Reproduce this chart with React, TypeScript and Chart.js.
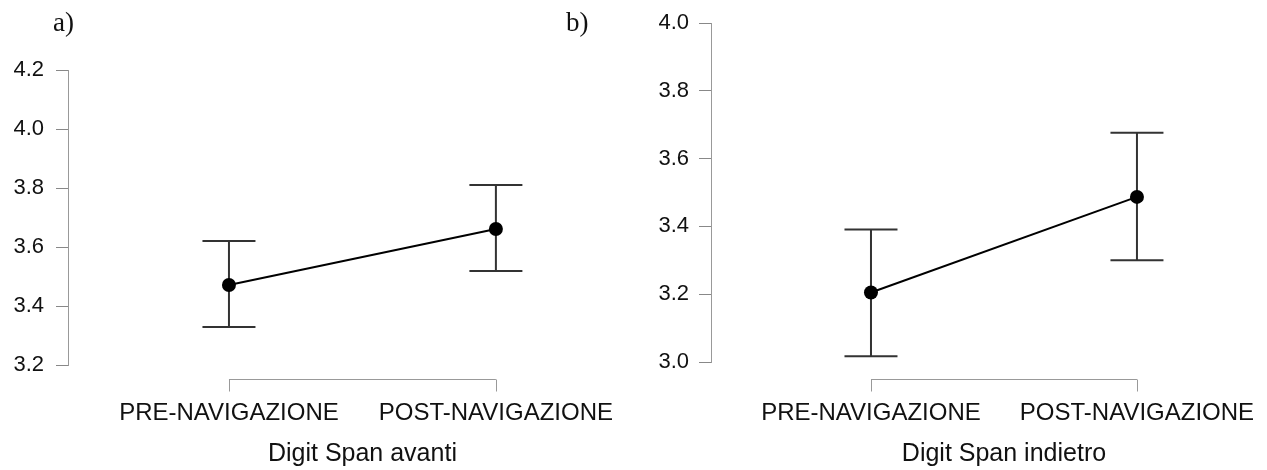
import React, { useEffect, useRef } from "react";
import { Chart, registerables } from "chart.js";

Chart.register(...registerables);

// ---- Data ----
const categories = ["PRE-NAVIGAZIONE", "POST-NAVIGAZIONE"];

const avantiMean = [3.471, 3.661];
const avantiLower = [3.329, 3.519];
const avantiUpper = [3.62, 3.81];
const avantiTicks = [3.2, 3.4, 3.6, 3.8, 4.0, 4.2];

const indietroMean = [3.205, 3.487];
const indietroLower = [3.017, 3.3];
const indietroUpper = [3.391, 3.676];
const indietroTicks = [3.0, 3.2, 3.4, 3.6, 3.8, 4.0];

const SANS = "'Liberation Sans', Arial, sans-serif";

type PanelCfg = {
  mean: number[];
  lower: number[];
  upper: number[];
  ticks: number[];
  title: string;
  width: number;
  yWidth: number;
  xHeight: number;
  padTop: number;
  padRight: number;
  xMin: number;
  xMax: number;
  bracketGap: number;
  labelPad: number;
  yLabelPad: number;
};

function makePlugin(cfg: PanelCfg) {
  return {
    id: "extras",
    beforeDatasetsDraw(chart: any) {
      const { ctx } = chart;
      const x = chart.scales.x;
      const y = chart.scales.y;
      ctx.save();
      ctx.strokeStyle = "#333";
      ctx.lineWidth = 2;
      cfg.lower.forEach((lo, i) => {
        const px = x.getPixelForValue(i);
        const y1 = y.getPixelForValue(lo);
        const y2 = y.getPixelForValue(cfg.upper[i]);
        const cap = 26.5;
        ctx.beginPath();
        ctx.moveTo(px, y1);
        ctx.lineTo(px, y2);
        ctx.moveTo(px - cap, y1);
        ctx.lineTo(px + cap, y1);
        ctx.moveTo(px - cap, y2);
        ctx.lineTo(px + cap, y2);
        ctx.stroke();
      });
      ctx.restore();
    },
    afterDraw(chart: any) {
      const { ctx } = chart;
      const x = chart.scales.x;
      const x0 = x.getPixelForValue(0);
      const x1 = x.getPixelForValue(categories.length - 1);
      const ly = Math.round(x.top + cfg.bracketGap) + 0.5;
      ctx.save();
      ctx.strokeStyle = "#999";
      ctx.lineWidth = 1;
      ctx.beginPath();
      ctx.moveTo(x0, ly);
      ctx.lineTo(x1, ly);
      categories.forEach((_, i) => {
        const px = Math.round(x.getPixelForValue(i)) + 0.5;
        ctx.moveTo(px, ly);
        ctx.lineTo(px, ly + 12);
      });
      ctx.stroke();
      ctx.fillStyle = "#111";
      ctx.font = `25px ${SANS}`;
      ctx.textAlign = "center";
      ctx.textBaseline = "middle";
      ctx.fillText(cfg.title, (x0 + x1) / 2, x.bottom - 16);
      ctx.restore();
    },
  };
}

function Panel({ cfg, left }: { cfg: PanelCfg; left: number }) {
  const ref = useRef<HTMLCanvasElement | null>(null);
  useEffect(() => {
    if (!ref.current) return;
    const chart = new Chart(ref.current, {
      type: "line",
      data: {
        datasets: [
          {
            data: cfg.mean.map((v, i) => ({ x: i, y: v })),
            borderColor: "#000",
            borderWidth: 2,
            pointRadius: 7,
            pointBackgroundColor: "#000",
            pointBorderWidth: 0,
            pointHoverRadius: 7,
            fill: false,
          },
        ],
      },
      options: {
        responsive: false,
        animation: false,
        devicePixelRatio: 1,
        layout: { padding: { top: cfg.padTop, right: cfg.padRight, left: 0, bottom: 0 } },
        plugins: { legend: { display: false }, tooltip: { enabled: false } },
        scales: {
          x: {
            type: "linear",
            min: cfg.xMin,
            max: cfg.xMax,
            border: { display: false },
            grid: { display: false },
            afterBuildTicks: (s: any) => {
              s.ticks = categories.map((_, i) => ({ value: i }));
            },
            afterFit: (s: any) => {
              s.height = cfg.xHeight;
              s.paddingLeft = 0;
              s.paddingRight = 0;
            },
            ticks: {
              autoSkip: false,
              maxRotation: 0,
              padding: cfg.labelPad,
              color: "#111",
              font: { family: SANS, size: 24 },
              callback: (v: any) => categories[Math.round(Number(v))] ?? "",
            },
          },
          y: {
            type: "linear",
            min: cfg.ticks[0],
            max: cfg.ticks[cfg.ticks.length - 1],
            border: { display: true, color: "#999", width: 1 },
            grid: {
              display: true,
              drawOnChartArea: false,
              drawTicks: true,
              tickLength: 12,
              color: "#888",
              tickColor: "#888",
            },
            afterBuildTicks: (s: any) => {
              s.ticks = cfg.ticks.map((v) => ({ value: v }));
            },
            afterFit: (s: any) => {
              s.width = cfg.yWidth;
              s.paddingTop = 0;
              s.paddingBottom = 0;
            },
            ticks: {
              padding: cfg.yLabelPad,
              color: "#111",
              font: { family: SANS, size: 22 },
              callback: (v: any) => Number(v).toFixed(1),
            },
          },
        },
      },
      plugins: [makePlugin(cfg)],
    } as any);
    return () => chart.destroy();
  }, [cfg]);
  return (
    <canvas
      ref={ref}
      width={cfg.width}
      height={470}
      style={{ position: "absolute", left, top: 0, width: cfg.width, height: 470 }}
    />
  );
}

const panelA: PanelCfg = {
  mean: avantiMean,
  lower: avantiLower,
  upper: avantiUpper,
  ticks: avantiTicks,
  title: "Digit Span avanti",
  width: 620,
  yWidth: 68,
  xHeight: 105,
  padTop: 70,
  padRight: 20,
  xMin: -0.603,
  xMax: 1.39,
  bracketGap: 14,
  labelPad: 26,
  yLabelPad: 12,
};

const panelB: PanelCfg = {
  mean: indietroMean,
  lower: indietroLower,
  upper: indietroUpper,
  ticks: indietroTicks,
  title: "Digit Span indietro",
  width: 647,
  yWidth: 91,
  xHeight: 108,
  padTop: 23,
  padRight: 17,
  xMin: -0.6015,
  xMax: 1.425,
  bracketGap: 17,
  labelPad: 29,
  yLabelPad: 10,
};

const letterStyle: React.CSSProperties = {
  position: "absolute",
  top: 7,
  fontFamily: "'Liberation Serif', 'Times New Roman', serif",
  fontSize: 27,
  lineHeight: "30px",
  color: "#111",
};

export default function App() {
  return (
    <div
      style={{
        position: "absolute",
        left: 0,
        top: 0,
        width: 1267,
        height: 470,
        background: "#fff",
        overflow: "hidden",
      }}
    >
      <Panel cfg={panelA} left={0} />
      <Panel cfg={panelB} left={620} />
      <div style={{ ...letterStyle, left: 53 }}>a)</div>
      <div style={{ ...letterStyle, left: 566 }}>b)</div>
    </div>
  );
}
